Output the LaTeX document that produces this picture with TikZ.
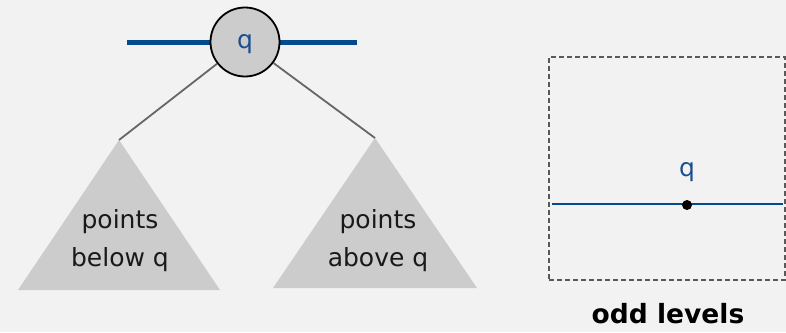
\documentclass[tikz,border=0pt]{standalone}
\usepackage{fontspec}
\setmainfont{DejaVu Sans}
\begin{document}
\begin{tikzpicture}[x=1pt,y=-1pt,
  bg/.style={fill=bgcol},
  keynode/.style={circle,draw=black,line width=1.8pt,fill=nodegray,minimum size=69pt,inner sep=0pt,
    text=qblue,font=\fontsize{25}{30}\selectfont},
  splitline/.style={draw=lineblue,line width=5pt},
  thinsplit/.style={draw=lineblue,line width=2pt},
  treelink/.style={draw=linkgray,line width=1.8pt},
  subtree/.style={fill=nodegray},
  treetext/.style={align=center,text=black!90,font=\fontsize{25}{38}\selectfont},
  qlabel/.style={text=qblue,font=\fontsize{25}{30}\selectfont},
  region/.style={draw=black!65,line width=1.2pt,dash pattern=on 5pt off 3pt},
  caption/.style={font=\bfseries\fontsize{26.5}{30}\selectfont}]
\definecolor{bgcol}{HTML}{F2F2F2}
\definecolor{nodegray}{HTML}{CCCCCC}
\definecolor{lineblue}{HTML}{034A8F}
\definecolor{qblue}{HTML}{1A4E8C}
\definecolor{linkgray}{HTML}{666666}
\useasboundingbox (0,0) rectangle (786,332);
\fill[bg] (0,0) rectangle (786,332);

% subtrees
\coordinate (lt) at (119,140);
\coordinate (rt) at (375,138);
\fill[subtree] (lt) -- (220,290) -- (18,290) -- cycle;
\fill[subtree] (rt) -- (477,288) -- (273,288) -- cycle;
\node[treetext] (below) at (120,241) {points\\below q};
\node[treetext] (above) at (378,241) {points\\above q};

% splitting line through the root
\coordinate (sl) at (127,42);
\coordinate (sr) at (357,42);
\draw[splitline] (sl) -- (sr);
\node[keynode] (q) at (245,42) {\raisebox{-6pt}[0pt][0pt]{q}};
\draw[treelink] (q) -- (lt);
\draw[treelink] (q) -- (rt);

% odd level region
\node[region,minimum width=236pt,minimum height=223pt,inner sep=0pt] (box) at (667,168.5) {};
\coordinate (bl) at (552,204);
\coordinate (br) at (783,204);
\draw[thinsplit] (bl) -- (br);
\fill[black] (687,205) circle (5pt) coordinate (pt);
\node[qlabel] (ql) at (687,172) {q};
\node[caption] (cap) at (668,314) {odd levels};
\end{tikzpicture}
\end{document}
